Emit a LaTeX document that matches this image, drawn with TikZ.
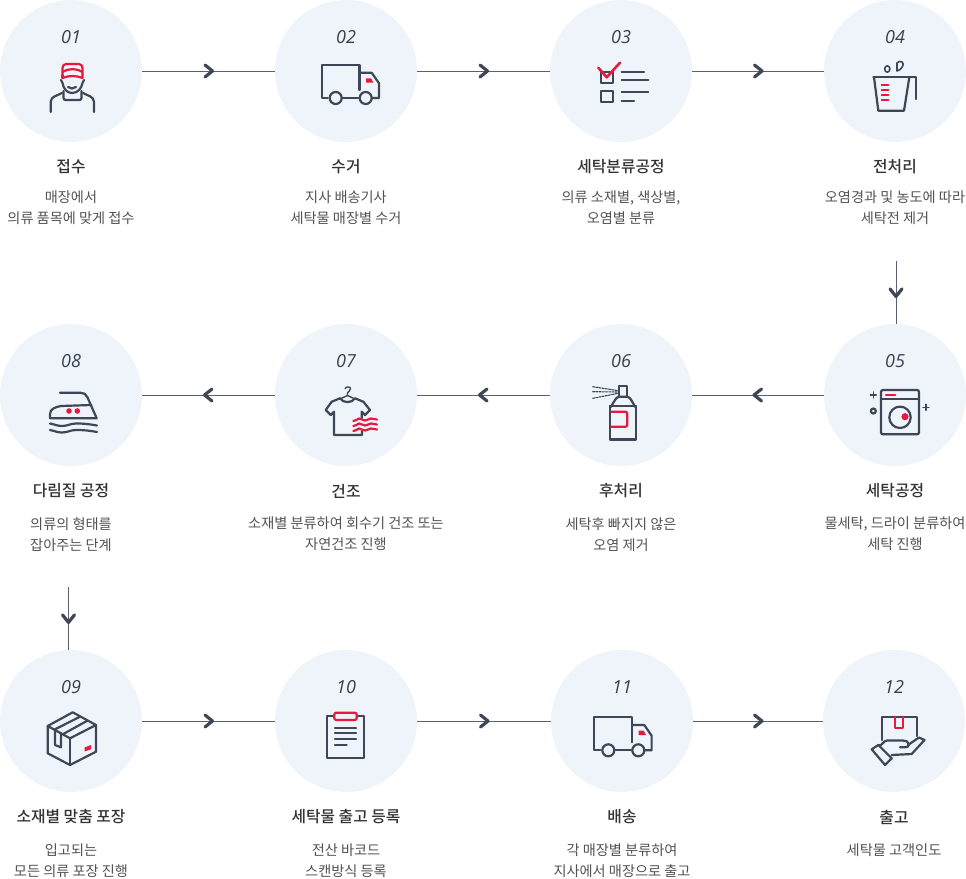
\documentclass[tikz,border=0pt]{standalone}
\usepackage{fontspec}
\usetikzlibrary{positioning,decorations.markings}
\setmainfont{Noto Sans CJK KR}
\newfontfamily\titlefont{Noto Sans CJK KR Medium}
\newfontfamily\numfont{Open Sans}

\definecolor{circfill}{HTML}{EFF4FA}
\definecolor{inkdark}{HTML}{3F4656}
\definecolor{inkred}{HTML}{E8193F}
\definecolor{linegrey}{HTML}{5A6070}

\tikzset{
  stepcirc/.style={circle,fill=circfill,minimum size=142pt,inner sep=0pt},
  numtxt/.style={font=\numfont\itshape\fontsize{18}{20}\selectfont,text=inkdark!90!black,inner sep=0pt},
  titletxt/.style={font=\titlefont\fontsize{15.8}{18}\selectfont,text=black!80,inner sep=0pt},
  desctxt/.style={font=\fontsize{14.2}{21}\selectfont,text=black!68,align=center,inner sep=0pt,anchor=north},
  flowline/.style={draw=linegrey,line width=1pt,postaction={decorate},
    decoration={markings,mark=at position 0.5 with {
      \draw[inkdark,line width=3.2pt,line cap=round,line join=round] (-3.5,-6) -- (4,0) -- (-3.5,6);}}},
  ic/.style={draw=inkdark,line width=2.2pt,line join=round,line cap=round},
  icred/.style={draw=inkred,line width=2.2pt,line join=round,line cap=round},
  pics/truck/.style={code={
    \draw[ic] (6,33) -- (0,33) -- (0,0) -- (37.7,0) -- (37.7,25);
    \draw[ic] (14,33) circle[radius=6];
    \draw[ic] (44,33) circle[radius=6];
    \draw[ic] (20,33) -- (36.7,33);
    \draw[ic] (37.7,7.7) -- (50,7.7) -- (57.3,18.3) -- (57.3,33) -- (50,33);
    \fill[inkred] (44.3,13.3) -- (49.3,13.3) -- (51.7,17.7) -- (44.3,17.7) -- cycle;
  }}
}

% circle, number, title and description of one step
\newcommand{\procstep}[7]{
  \node[stepcirc] (c#1) at (#2,#3) {};
  \node[numtxt] (n#1) at (#2,#3-34) {#1};
  \node[titletxt] (t#1) at (#2,#3+96) {#4};
  \node[desctxt] (d#1) at (#2,#3+#5) {#6\ifx&#7&\else\\#7\fi};
}

\begin{document}
\begin{tikzpicture}[x=1pt,y=-1pt]
 \useasboundingbox (0,0) rectangle (966,878);

 \procstep{01}{71}{71}{접수}{120}{매장에서}{의류 품목에 맞게 접수}
 \procstep{02}{346}{71}{수거}{120}{지사 배송기사}{세탁물 매장별 수거}
 \procstep{03}{621}{71}{세탁분류공정}{120}{의류 소재별, 색상별,}{오염별 분류}
 \procstep{04}{895}{71}{전처리}{120}{오염경과 및 농도에 따라}{세탁전 제거}
 \procstep{05}{895}{395}{세탁공정}{122}{물세탁, 드라이 분류하여}{세탁 진행}
 \procstep{06}{621}{395}{후처리}{122}{세탁후 빠지지 않은}{오염 제거}
 \procstep{07}{346}{395}{건조}{122}{소재별 분류하여 회수기 건조 또는}{자연건조 진행}
 \procstep{08}{71}{395}{다림질 공정}{122}{의류의 형태를}{잡아주는 단계}
 \procstep{09}{71}{721}{소재별 맞춤 포장}{123}{입고되는}{모든 의류 포장 진행}
 \procstep{10}{346}{721}{세탁물 출고 등록}{123}{전산 바코드}{스캔방식 등록}
 \procstep{11}{622}{721}{배송}{123}{각 매장별 분류하여}{지사에서 매장으로 출고}
 \procstep{12}{894}{721}{출고}{123}{세탁물 고객인도}{}

 \foreach \a/\b in {c01/c02,c02/c03,c03/c04,c05/c06,c06/c07,c07/c08,c09/c10,c10/c11,c11/c12}
  \draw[flowline] (\a) -- (\b);
 \coordinate (down1) at (896,261);
 \coordinate (down2) at (68.5,587);
 \draw[flowline] (down1) -- (down1 |- c05.north);
 \draw[flowline] (down2) -- (down2 |- c09.north);

 % 01 worker
 \draw[icred] (62.5,75) -- (62.5,68) to[out=90,in=180] (66,64) -- (79,64) to[out=0,in=90] (82.5,68) -- (82.5,75);
 \draw[icred] (62.5,72) to[out=30,in=150] (82.5,72);
 \draw[icred] (62.5,78) to[out=20,in=160] (82.5,78) -- (82.5,75);
 \draw[icred] (62.5,78) -- (62.5,75);
 \draw[ic] (61,80) -- (62.5,83) to[out=-80,in=180] (72,93) to[out=0,in=-100] (82.5,83) -- (84,80);
 \draw[ic] (68,87) to[out=-40,in=-140] (76,87);
 \draw[ic,rounded corners=2pt] (63.5,91) -- (63.5,100) -- (81.5,100) -- (81.5,91);
 \draw[ic] (50.7,112) -- (50.7,102) to[out=90,in=210] (62,93);
 \draw[ic] (94,112) -- (94,102) to[out=90,in=-30] (83,93);

 % 02 truck
 \pic at (321.7,65) {truck};

 % 03 check list
 \draw[ic] (601,71.7) rectangle (612.7,82.7);
 \draw[ic] (601,90.7) rectangle (612.7,102.3);
 \draw[ic] (621.7,71.7) -- (644,71.7);
 \draw[ic] (621.7,80) -- (648.3,80);
 \draw[ic] (621.7,91.7) -- (648.3,91.7);
 \draw[ic] (621.7,100.7) -- (634,100.7);
 \draw[icred,line width=2.6pt] (598.3,67.7) -- (606.7,77.3) -- (620,62.7);

 % 04 beaker
 \draw[ic] (873.3,77.3) -- (916,77.3) -- (916,99);
 \draw[ic] (874,77.3) -- (878.3,110.7) -- (904,110.7) -- (909.3,77.3);
 \foreach \yy in {85,90,95,100}
  \draw[icred] (881.7,\yy) -- (888.3,\yy);
 \draw[ic,line width=1.6pt] (887.3,69) ellipse[x radius=2.6,y radius=3.2];
 \draw[ic,line width=1.6pt] (897,71) -- (897,63) to[out=60,in=150] (902,62) to[out=-30,in=10] (897,71);

 % 05 washer
 \draw[ic,rounded corners=2pt] (881,390) rectangle (919,434.3);
 \draw[ic] (881,399.3) -- (919,399.3);
 \draw[icred] (886,395.3) -- (895.3,395.3);
 \draw[ic] (900,417.3) circle[radius=10.7];
 \fill[inkred] (905,416.7) circle[radius=3.6];
 \draw[ic,line width=1.3pt] (873.3,392) -- (873.3,398) (870.3,395) -- (876.3,395);
 \draw[ic,line width=1.3pt] (926,404.3) -- (926,410.3) (923,407.3) -- (929,407.3);
 \draw[ic] (873.3,411) circle[radius=2.5];

 % 06 spray
 \draw[ic,line width=1.1pt,dash pattern=on 2pt off 1.2pt] (592.7,386.7) -- (618.3,390.7);
 \draw[ic,line width=1.1pt,dash pattern=on 2pt off 1.2pt] (592.7,391.7) -- (618.3,392);
 \draw[ic,line width=1.1pt,dash pattern=on 2pt off 1.2pt] (592.7,398.3) -- (618.3,393.3);
 \draw[ic] (619,396.7) -- (619,386) -- (627.3,386) -- (627.3,396.7);
 \draw[ic] (610,406) to[out=-85,in=190] (619,396.7) -- (627.3,396.7) to[out=-10,in=-95] (636,406);
 \draw[ic] (610,406) rectangle (636,439.5);
 \draw[icred,rounded corners=2pt] (611.5,411.7) -- (627.3,411.7) -- (627.3,426.7) -- (611.5,426.7);

 % 07 shirt
 \draw[ic,line width=1.4pt] (345,388.5) to[out=70,in=90] (350.5,388.5) to[out=-90,in=60] (347.5,393) -- (347.5,395.5);
 \draw[ic,line width=1.4pt] (340,399) -- (347.5,395.5) -- (355,399);
 \draw[ic] (340,398.3) to[out=-60,in=-120] (355,398.3) -- (363.3,401.7) -- (370,410) -- (365,415) -- (361.7,411.7) -- (361.7,418);
 \draw[ic] (340,398.3) -- (331.7,401.7) -- (325.7,410) -- (330.7,415) -- (334,411.7) -- (334,435) -- (362,435) -- (362,431);
 \foreach \yy in {419.5,424.5,429.5}
  \draw[icred] (353.3,\yy+1.5) to[out=-25,in=180] (359,\yy-1) to[out=0,in=180] (365,\yy+1) to[out=0,in=180] (371,\yy-1) to[out=0,in=180] (377,\yy);

 % 08 iron
 \draw[ic] (60,392.7) -- (80,392.7) to[out=0,in=110] (87.3,397) -- (96.7,418.3) -- (50,418.3) -- (50,414) to[out=90,in=190] (61,406) -- (91.5,405);
 \fill[inkred] (69,411) circle[radius=2.8] (77.3,411) circle[radius=2.8];
 \foreach \yy in {424.5,431}
  \draw[ic] (50,\yy-1) to[out=-10,in=180] (62,\yy+1.5) to[out=0,in=180] (76,\yy-1) to[out=0,in=170] (97,\yy+1);

 % 09 parcel
 \draw[ic] (72.7,712.3) -- (96,725) -- (70,738.3) -- (47.7,726) -- cycle;
 \draw[ic] (47.7,726) -- (47.7,753.3) -- (70,765) -- (96,751.7) -- (96,725);
 \draw[ic] (70,738.3) -- (70,765);
 \draw[ic] (55,729.3) -- (80,716.7);
 \draw[ic] (63.3,734) -- (87.3,720.7);
 \draw[ic] (55,729.3) -- (55,745) -- (61,747.3) -- (61,733);
 \fill[inkred] (84.5,747.5) -- (91,745) -- (91,749.3) -- (84.5,751.5) -- cycle;

 % 10 clipboard
 \draw[ic] (334.3,716) -- (327.3,716) -- (327.3,757.7) -- (364,757.7) -- (364,716) -- (356.7,716);
 \draw[icred,rounded corners=2pt] (334.3,712.7) rectangle (356.7,720);
 \foreach \yy in {727.7,733.3,739.3}
  \draw[ic] (335,\yy) -- (356,\yy);
 \draw[ic] (335,745) -- (346.7,745);

 % 11 truck
 \pic at (594.3,717.3) {truck};

 % 12 hand and box
 \draw[ic] (882.3,740) -- (882.3,716.7) -- (916.7,716.7) -- (916.7,736);
 \draw[icred] (895,716.7) -- (895,727.7) -- (903.3,727.7) -- (903.3,716.7);
 \draw[ic] (871.7,749.3) -- (878.3,745) -- (891.7,758.3) -- (885,765) -- cycle;
 \draw[ic] (878.3,745) to[out=-40,in=180] (887,740.5) -- (903,740.5) to[out=0,in=90] (909,744.5) to[out=-90,in=0] (905,747.3) -- (900,747.3);
 \draw[ic] (908,745) -- (919,737.5) -- (924.5,740) -- (911.7,754) -- (891.7,755);
\end{tikzpicture}
\end{document}
